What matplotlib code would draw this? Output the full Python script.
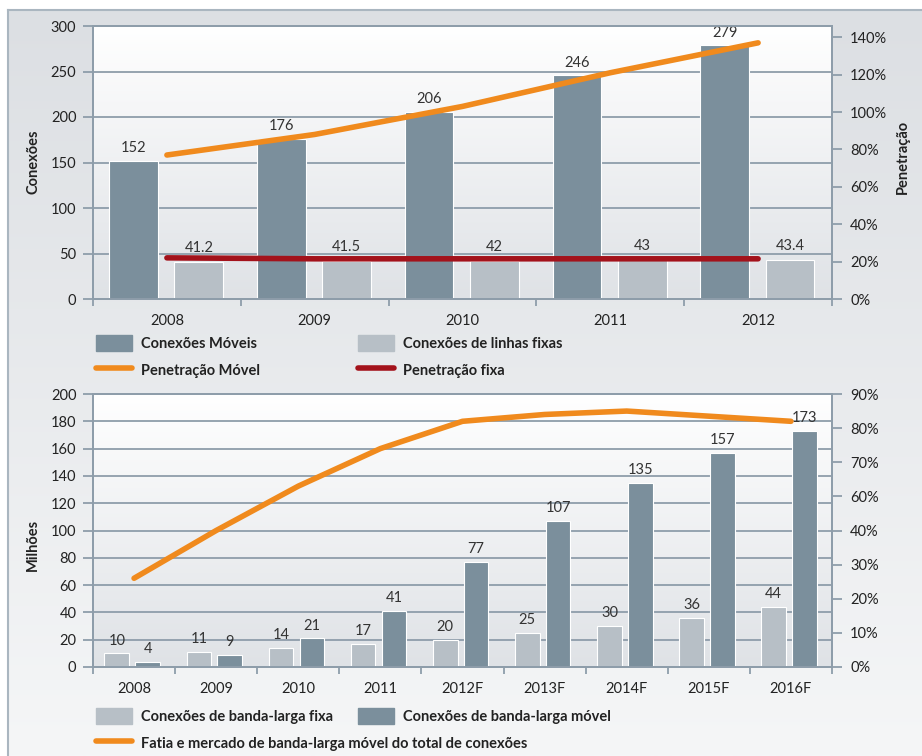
import numpy as np
import matplotlib
matplotlib.use('Agg')
import matplotlib.pyplot as plt
from matplotlib.colors import LinearSegmentedColormap
from matplotlib.patches import Patch
from matplotlib.lines import Line2D
from matplotlib.ticker import FuncFormatter

plt.rcParams['font.family'] = ['Lato', 'DejaVu Sans']

# grafico de cima
anos = ['2008', '2009', '2010', '2011', '2012']
con_moveis = [152, 176, 206, 246, 279]
con_fixas = [41.2, 41.5, 42, 43, 43.4]
pen_movel = [77, 88, 103, 121, 137]
pen_fixa = [22, 21.5, 21.5, 21.5, 21.5]

# grafico de baixo
anos2 = ['2008', '2009', '2010', '2011', '2012F', '2013F', '2014F', '2015F', '2016F']
bl_fixa = [10, 11, 14, 17, 20, 25, 30, 36, 44]
bl_movel = [4, 9, 21, 41, 77, 107, 135, 157, 173]
fatia = [26, 40, 63, 74, 82, 84, 85, 83.5, 82]
# eixo da direita como impresso no original (sem 50%)
pct_labels = [0, 10, 20, 30, 40, 60, 70, 80, 90]

escuro = '#7b8f9c'
claro = '#b7bfc6'
laranja = '#f08a1d'
vermelho = '#a3121b'
grade = '#8e9daa'
texto = '#222222'

W, H = 922, 756
fig = plt.figure(figsize=(W/100, H/100), dpi=100, facecolor='white')

# fundo do painel
bg = fig.add_axes([8/W, 0, 1-8/W, 1-10/H])
cm_bg = LinearSegmentedColormap.from_list('bg', ['#f5f6f7', '#dcdfe3'])
bg.imshow(np.linspace(0, 1, 256).reshape(-1, 1)[::-1], aspect='auto', cmap=cm_bg,
          extent=[0, 1, 0, 1])
bg.set_xlim(0, 1)
bg.set_ylim(0, 1)
bg.set_xticks([])
bg.set_yticks([])
for s in ['right', 'bottom']:
    bg.spines[s].set_visible(False)
for s in ['left', 'top']:
    bg.spines[s].set_color('#aab6c0')
    bg.spines[s].set_linewidth(1.5)

cm_ax = LinearSegmentedColormap.from_list('ax', ['#dfe2e6', '#ffffff'])


def estilo(ax, axr, n):
    ax.imshow(np.linspace(0, 1, 256).reshape(-1, 1)[::-1], aspect='auto', cmap=cm_ax,
              extent=[0, 1, 0, 1], transform=ax.transAxes, zorder=-10)
    ax.set_xlim(-0.5, n - 0.5)
    ax.set_xticks(np.arange(-0.5, n, 1))
    ax.set_xticklabels([])
    ax.yaxis.grid(True, color=grade, lw=1.3)
    ax.set_axisbelow(True)
    ax.tick_params(axis='y', length=7, width=1.3, color=grade, pad=5, labelsize=10.5, labelcolor=texto)
    ax.tick_params(axis='x', which='major', length=5, width=1.3, color=grade)
    ax.tick_params(axis='x', which='minor', length=0, pad=11, labelsize=10.5, labelcolor=texto)
    axr.tick_params(axis='y', length=7, width=1.3, color=grade, pad=6, labelsize=10.5, labelcolor=texto)
    for a in (ax, axr):
        for s in a.spines.values():
            s.set_color(grade)
            s.set_linewidth(1.3)


# ---- grafico de cima
ax1 = fig.add_axes([93/W, 1-299/H, 739/W, 273/H])
x = np.arange(len(anos))
b1 = ax1.bar(x - 0.226, con_moveis, 0.33, color=escuro, edgecolor='white', lw=0.8)
b2 = ax1.bar(x + 0.216, con_fixas, 0.33, color=claro, edgecolor='white', lw=0.8)
ax1.bar_label(b1, padding=4, fontsize=10.5, color='#333333')
ax1.bar_label(b2, labels=[str(v) for v in con_fixas], padding=5, fontsize=10.5, color='#333333')
ax1.set_ylim(0, 300)
ax1.set_yticks(range(0, 301, 50))
ax1.set_xticks(x, minor=True)
ax1.set_xticklabels(anos, minor=True)

ax1r = ax1.twinx()
ax1r.plot(x, pen_movel, color=laranja, lw=4, solid_capstyle='round')
ax1r.plot(x, pen_fixa, color=vermelho, lw=4, solid_capstyle='round')
ax1r.set_ylim(0, 146)
ax1r.set_yticks(range(0, 141, 20))
ax1r.yaxis.set_major_formatter(FuncFormatter(lambda v, p: '%d%%' % v))
estilo(ax1, ax1r, len(anos))

fig.text(33/W, 1-162/H, 'Conexões', rotation=90, ha='center', va='center',
         fontsize=10.5, fontweight='bold', color=texto)
fig.text(903/W, 1-157/H, 'Penetração', rotation=90, ha='center', va='center',
         fontsize=10.5, fontweight='bold', color=texto)

# ---- grafico de baixo
ax2 = fig.add_axes([93/W, 1-667/H, 739/W, 273/H])
x2 = np.arange(len(anos2))
b3 = ax2.bar(x2 - 0.21, bl_fixa, 0.3, color=claro, edgecolor='white', lw=0.8)
b4 = ax2.bar(x2 + 0.165, bl_movel, 0.3, color=escuro, edgecolor='white', lw=0.8)
ax2.bar_label(b3, padding=4, fontsize=10.5, color='#333333')
ax2.bar_label(b4, padding=4, fontsize=10.5, color='#333333')
ax2.set_ylim(0, 200)
ax2.set_yticks(range(0, 201, 20))
ax2.set_xticks(x2, minor=True)
ax2.set_xticklabels(anos2, minor=True)

ax2r = ax2.twinx()
pos = np.arange(0, 90, 10)
ax2r.plot(x2, np.interp(fatia, pct_labels, pos), color=laranja, lw=4, solid_capstyle='round')
ax2r.set_ylim(0, 80)
ax2r.set_yticks(pos)
ax2r.set_yticklabels(['%d%%' % v for v in pct_labels])
estilo(ax2, ax2r, len(anos2))

fig.text(33/W, 1-545/H, 'Milhões', rotation=90, ha='center', va='center',
         fontsize=10.5, fontweight='bold', color=texto)


# ---- legendas
def legenda(handles, labels, xp, yp):
    leg = fig.legend(handles, labels, loc='upper left', bbox_to_anchor=(xp/W, 1-yp/H),
                     frameon=False, borderpad=0, borderaxespad=0, handlelength=2.5,
                     handleheight=1.3, handletextpad=0.6, labelspacing=0.75,
                     prop={'weight': 'bold', 'size': 10.5})
    for t in leg.get_texts():
        t.set_color(texto)
    return leg


def linha(c):
    return Line2D([], [], color=c, lw=4, solid_capstyle='round')


legenda([Patch(color=escuro), linha(laranja)], ['Conexões Móveis', 'Penetração Móvel'], 96, 335)
legenda([Patch(color=claro), linha(vermelho)], ['Conexões de linhas fixas', 'Penetração fixa'], 358, 335)
legenda([Patch(color=claro), linha(laranja)],
        ['Conexões de banda-larga fixa', 'Fatia e mercado de banda-larga móvel do total de conexões'], 96, 708)
legenda([Patch(color=escuro)], ['Conexões de banda-larga móvel'], 358, 708)

fig.savefig('out.png', dpi=100, facecolor=fig.get_facecolor())
